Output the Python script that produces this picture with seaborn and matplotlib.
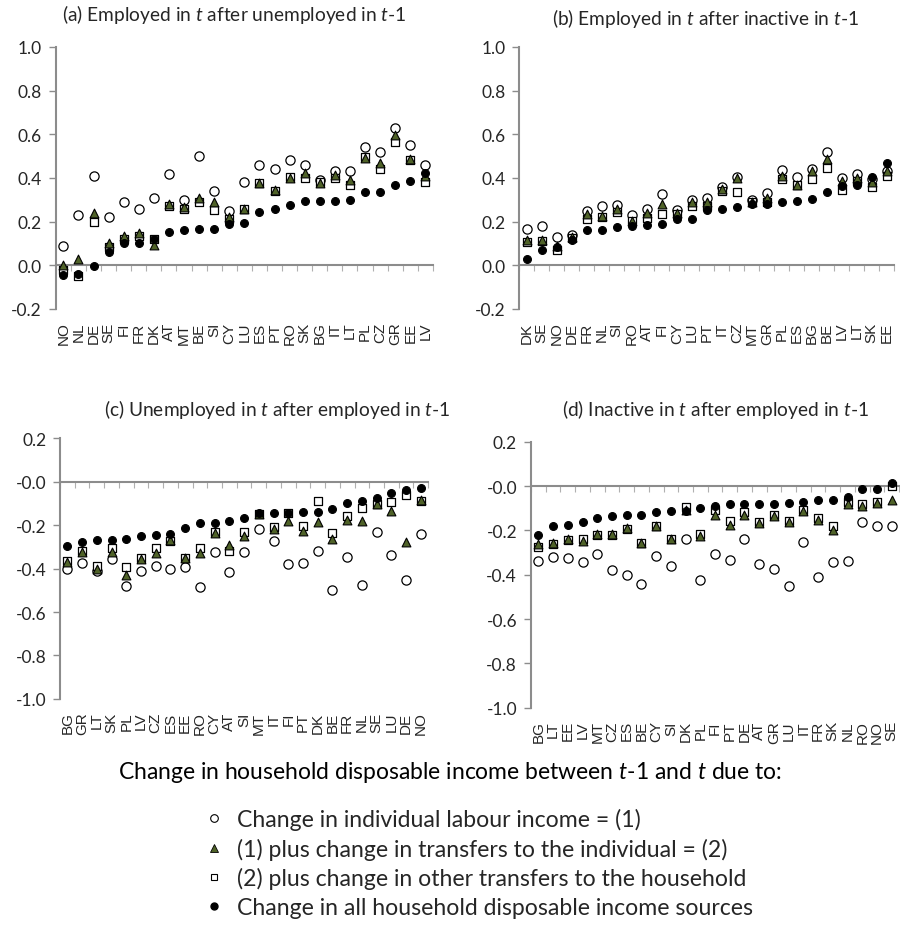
"""Income replacement after labour market transitions, four panels."""
import matplotlib

matplotlib.use("Agg")
import matplotlib.pyplot as plt
import numpy as np
import pandas as pd
import seaborn as sns
from matplotlib.lines import Line2D

# (a) Employed in t after unemployed in t-1
countries_a = ["NO", "NL", "DE", "SE", "FI", "FR", "DK", "AT", "MT", "BE", "SI", "CY", "LU",
               "ES", "PT", "RO", "SK", "BG", "IT", "LT", "PL", "CZ", "GR", "EE", "LV"]
labour_a = [0.09, 0.23, 0.41, 0.22, 0.29, 0.26, 0.31, 0.42, 0.30, 0.50, 0.34, 0.25, 0.38,
            0.46, 0.44, 0.48, 0.46, 0.39, 0.43, 0.43, 0.54, 0.52, 0.63, 0.55, 0.46]
indiv_a = [0.00, 0.03, 0.24, 0.10, 0.135, 0.15, 0.095, 0.28, 0.265, 0.31, 0.29, 0.22, 0.26,
           0.375, 0.345, 0.40, 0.425, 0.375, 0.415, 0.39, 0.49, 0.47, 0.595, 0.485, 0.41]
other_a = [-0.02, -0.05, 0.20, 0.085, 0.12, 0.135, 0.12, 0.27, 0.26, 0.29, 0.255, 0.21, 0.26,
           0.375, 0.34, 0.405, 0.40, 0.38, 0.40, 0.37, 0.495, 0.44, 0.565, 0.48, 0.38]
all_a = [-0.045, -0.04, -0.005, 0.06, 0.10, 0.10, 0.12, 0.152, 0.16, 0.167, 0.167, 0.19, 0.195,
         0.243, 0.26, 0.277, 0.293, 0.293, 0.295, 0.297, 0.335, 0.338, 0.368, 0.385, 0.425]

# (b) Employed in t after inactive in t-1
countries_b = ["DK", "SE", "NO", "DE", "FR", "NL", "SI", "RO", "AT", "FI", "CY", "LU", "PT",
               "IT", "CZ", "MT", "GR", "PL", "ES", "BG", "BE", "LV", "LT", "SK", "EE"]
labour_b = [0.167, 0.178, 0.13, 0.14, 0.25, 0.27, 0.275, 0.23, 0.26, 0.327, 0.255, 0.30, 0.31,
            0.36, 0.405, 0.30, 0.33, 0.438, 0.405, 0.44, 0.52, 0.40, 0.42, 0.395, 0.43]
indiv_b = [0.114, 0.115, 0.09, 0.13, 0.235, 0.225, 0.26, 0.205, 0.24, 0.28, 0.24, 0.29, 0.29,
           0.35, 0.40, 0.29, 0.31, 0.41, 0.37, 0.43, 0.485, 0.385, 0.40, 0.38, 0.43]
other_b = [0.106, 0.11, 0.07, 0.125, 0.21, 0.22, 0.245, 0.205, 0.215, 0.235, 0.235, 0.27, 0.27,
           0.34, 0.335, 0.29, 0.29, 0.395, 0.37, 0.395, 0.445, 0.345, 0.385, 0.36, 0.41]
all_b = [0.03, 0.07, 0.085, 0.115, 0.16, 0.16, 0.175, 0.18, 0.185, 0.19, 0.21, 0.21, 0.255,
         0.26, 0.265, 0.28, 0.28, 0.29, 0.295, 0.305, 0.335, 0.365, 0.37, 0.405, 0.467]

# (c) Unemployed in t after employed in t-1
countries_c = ["BG", "GR", "LT", "SK", "PL", "LV", "CZ", "ES", "EE", "RO", "CY", "AT", "SI",
               "MT", "IT", "FI", "PT", "DK", "BE", "FR", "NL", "SE", "LU", "DE", "NO"]
labour_c = [-0.403, -0.373, -0.41, -0.354, -0.48, -0.41, -0.388, -0.40, -0.395, -0.487,
            -0.323, -0.418, -0.323, -0.22, -0.273, -0.38, -0.373, -0.32, -0.498, -0.347,
            -0.476, -0.23, -0.339, -0.453, -0.242]
indiv_c = [-0.37, -0.323, -0.40, -0.323, -0.43, -0.357, -0.33, -0.27, -0.352, -0.33, -0.235,
           -0.293, -0.25, -0.15, -0.216, -0.181, -0.227, -0.186, -0.262, -0.178, -0.181,
           -0.104, -0.135, -0.28, -0.086]
other_c = [-0.365, -0.32, -0.39, -0.307, -0.395, -0.35, -0.307, -0.273, -0.35, -0.305,
           -0.232, -0.32, -0.23, -0.15, -0.209, -0.146, -0.204, -0.089, -0.235, -0.158,
           -0.124, -0.104, -0.092, -0.063, -0.089]
all_c = [-0.296, -0.28, -0.27, -0.268, -0.265, -0.25, -0.245, -0.24, -0.212, -0.193, -0.19,
         -0.18, -0.166, -0.146, -0.147, -0.146, -0.14, -0.14, -0.127, -0.10, -0.09, -0.074,
         -0.055, -0.04, -0.031]

# (d) Inactive in t after employed in t-1
countries_d = ["BG", "LT", "EE", "LV", "MT", "CZ", "ES", "BE", "CY", "SI", "DK", "PL", "FI",
               "PT", "DE", "AT", "GR", "LU", "IT", "FR", "SK", "NL", "RO", "NO", "SE"]
labour_d = [-0.338, -0.318, -0.326, -0.344, -0.306, -0.377, -0.40, -0.44, -0.315, -0.36,
            -0.239, -0.423, -0.306, -0.333, -0.239, -0.352, -0.374, -0.453, -0.253, -0.412,
            -0.344, -0.338, -0.162, -0.182, -0.182]
indiv_d = [-0.26, -0.255, -0.24, -0.25, -0.215, -0.215, -0.19, -0.255, -0.182, -0.238,
           -0.106, -0.223, -0.132, -0.174, -0.129, -0.167, -0.136, -0.164, -0.114, -0.152,
           -0.197, -0.083, -0.091, -0.076, -0.065]
other_d = [-0.273, -0.26, -0.242, -0.24, -0.22, -0.22, -0.192, -0.255, -0.179, -0.238,
           -0.094, -0.217, -0.106, -0.159, -0.118, -0.162, -0.129, -0.159, -0.106, -0.144,
           -0.179, -0.073, -0.083, -0.071, 0.0]
all_d = [-0.22, -0.179, -0.174, -0.164, -0.145, -0.133, -0.132, -0.129, -0.118, -0.114,
         -0.114, -0.098, -0.088, -0.083, -0.083, -0.079, -0.08, -0.076, -0.071, -0.065,
         -0.061, -0.05, -0.015, -0.015, 0.015]

series_labels = [
    "Change in individual labour income = (1)",
    "(1) plus change in transfers to the individual = (2)",
    "(2) plus change in other transfers to the household",
    "Change in all household disposable income sources",
]

OLIVE = "#4F6228"
AXIS_GREY = "#8c8c8c"
TEXT = "#262626"

# drawing order follows the reference: squares sit under the triangles
STYLES = {
    "labour": dict(marker="o", color="white", edgecolor="black", s=44, linewidth=0.9, zorder=3),
    "other": dict(marker="s", color="white", edgecolor="black", s=34, linewidth=0.9, zorder=4),
    "indiv": dict(marker="^", color=OLIVE, edgecolor="black", s=40, linewidth=0.8, zorder=5),
    "all": dict(marker="o", color="black", edgecolor="black", s=32, linewidth=0.8, zorder=6),
}

sns.set_theme(style="white")
plt.rcParams["font.family"] = ["Lato", "DejaVu Sans"]
plt.rcParams["mathtext.fontset"] = "custom"
plt.rcParams["mathtext.rm"] = "Lato"
plt.rcParams["mathtext.it"] = "Lato:italic"
plt.rcParams["axes.unicode_minus"] = False


def draw_panel(ax, countries, labour, indiv, other, total, ylim):
    df = pd.DataFrame(
        {"country": countries, "labour": labour, "indiv": indiv, "other": other, "all": total}
    )
    for key in ["labour", "other", "indiv", "all"]:
        sns.scatterplot(data=df, x="country", y=key, ax=ax, legend=False, **STYLES[key])
    n = len(countries)
    ax.set_xlim(-0.5, n - 0.5)
    ax.set_ylim(*ylim)
    ax.set_xlabel("")
    ax.set_ylabel("")

    # zero line with Excel-style tick marks between categories
    ax.spines["bottom"].set_position(("data", 0))
    ax.spines["bottom"].set_color(AXIS_GREY)
    ax.spines["bottom"].set_linewidth(1.5)
    ax.spines["bottom"].set_zorder(1)
    ax.set_xticks(np.arange(n + 1) - 0.5)
    ax.tick_params(axis="x", bottom=True, direction="out", length=4, width=0.8,
                   color="#b0b0b0", labelbottom=False)

    # country names at the bottom of the panel
    lab = ax.secondary_xaxis("bottom")
    lab.set_xticks(np.arange(n), labels=countries)
    lab.spines["bottom"].set_visible(False)
    lab.tick_params(length=0, pad=9, labelsize=11, labelrotation=90, labelcolor=TEXT)
    for t in lab.get_xticklabels():
        t.set_family(["Liberation Sans", "DejaVu Sans"])

    yticks = np.round(np.arange(ylim[0], ylim[1] + 0.01, 0.2), 1)
    ax.set_yticks(yticks, labels=[f"{v:.1f}" for v in yticks])
    ax.tick_params(axis="y", left=True, direction="out", length=5, width=1,
                   color=AXIS_GREY, labelsize=12.5, labelcolor=TEXT, pad=5)
    ax.spines["left"].set_color(AXIS_GREY)
    ax.spines["left"].set_linewidth(1.5)
    for side in ["top", "right"]:
        ax.spines[side].set_visible(False)
    ax.grid(False)


fig = plt.figure(figsize=(9, 9.28), dpi=100)
ax_a = fig.add_axes([0.062, 0.666, 0.419, 0.2823])
ax_b = fig.add_axes([0.577, 0.666, 0.4167, 0.2823])
ax_c = fig.add_axes([0.0667, 0.2457, 0.409, 0.2812])
ax_d = fig.add_axes([0.59, 0.2363, 0.409, 0.2866])

draw_panel(ax_a, countries_a, labour_a, indiv_a, other_a, all_a, (-0.2, 1.0))
draw_panel(ax_b, countries_b, labour_b, indiv_b, other_b, all_b, (-0.2, 1.0))
draw_panel(ax_c, countries_c, labour_c, indiv_c, other_c, all_c, (-1.0, 0.2))
draw_panel(ax_d, countries_d, labour_d, indiv_d, other_d, all_d, (-1.0, 0.2))

title_kw = dict(ha="center", va="center", fontsize=13.8, color=TEXT)
fig.text(234 / 900, 1 - 14 / 928,
         r"(a) Employed in $\mathit{t}$ after unemployed in $\mathit{t}$-$\mathit{1}$", **title_kw)
fig.text(706 / 900, 1 - 19 / 928,
         r"(b) Employed in $\mathit{t}$ after inactive in $\mathit{t}$-$\mathit{1}$", **title_kw)
fig.text(277 / 900, 1 - 410 / 928,
         r"(c) Unemployed in $\mathit{t}$ after employed in $\mathit{t}$-$\mathit{1}$", **title_kw)
fig.text(715 / 900, 1 - 410 / 928,
         r"(d) Inactive in $\mathit{t}$ after employed in $\mathit{t}$-$\mathit{1}$", **title_kw)

fig.text(450 / 900, 1 - 773 / 928,
         r"Change in household disposable income between $\mathit{t}$-$\mathit{1}$ and $\mathit{t}$ due to:",
         ha="center", va="center", fontsize=16.5, color="black")

handles = [
    Line2D([], [], ls="none", marker="o", ms=5.5, mfc="white", mec="black", mew=0.8),
    Line2D([], [], ls="none", marker="^", ms=5.5, mfc=OLIVE, mec="black", mew=0.6),
    Line2D([], [], ls="none", marker="s", ms=5, mfc="white", mec="black", mew=0.8),
    Line2D([], [], ls="none", marker="o", ms=5, mfc="black", mec="black"),
]
fig.legend(handles, series_labels, loc="upper left", bbox_to_anchor=(205 / 900, 1 - 809 / 928),
           frameon=False, fontsize=16.6, handlelength=0.8, handletextpad=0.6,
           labelspacing=0.33, borderaxespad=0, borderpad=0)

fig.savefig("out.png", dpi=100)
